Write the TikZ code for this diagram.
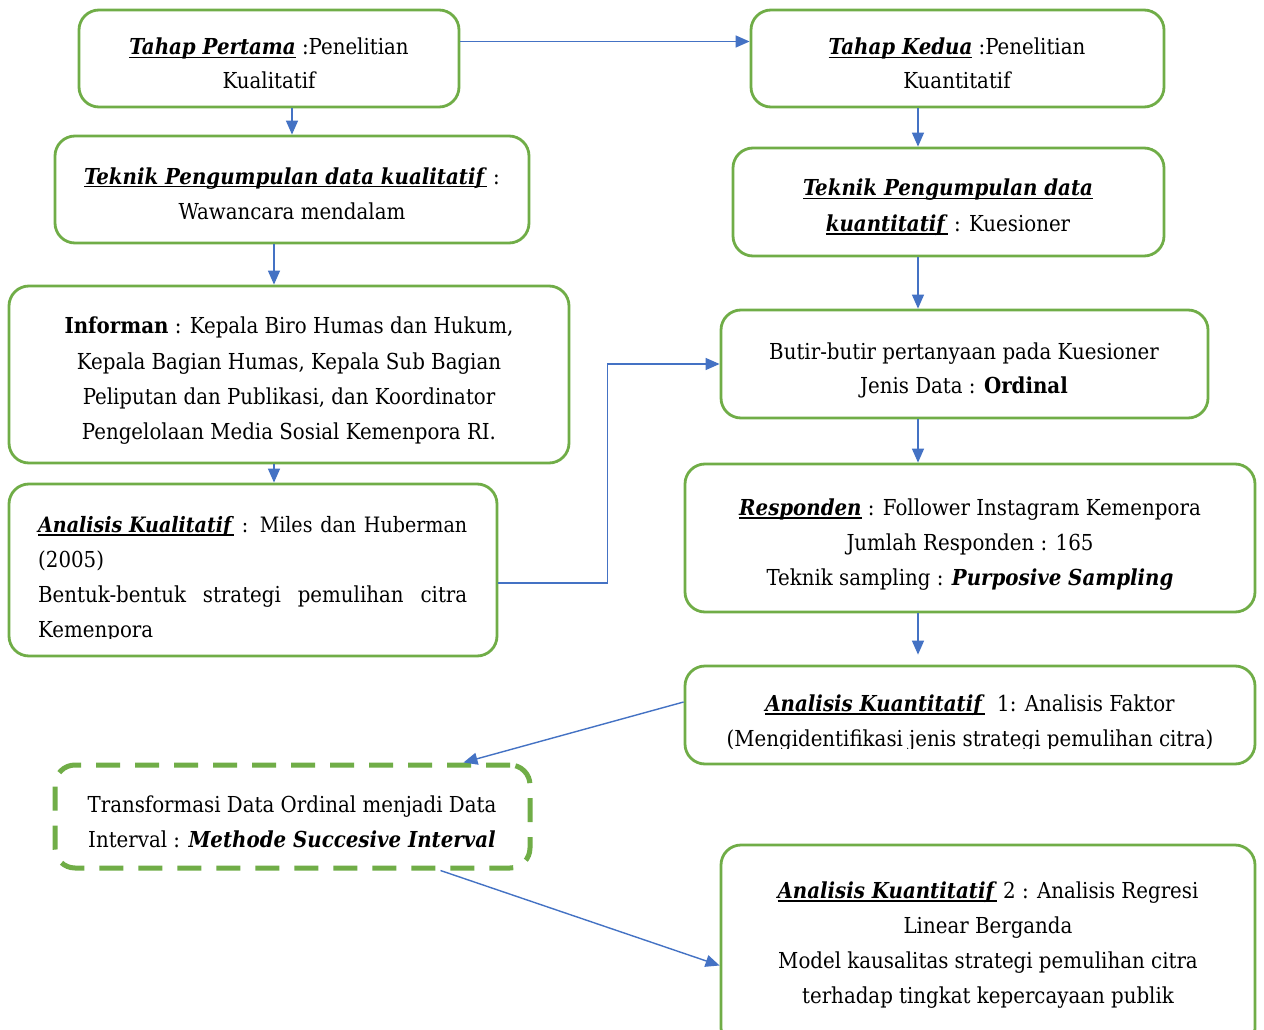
\documentclass[tikz,border=0pt]{standalone}
\usepackage{fontspec}
\setmainfont{DejaVu Serif Condensed}
\usetikzlibrary{arrows.meta,calc}
\definecolor{gr}{HTML}{70AD47}
\definecolor{bl}{HTML}{4472C4}
\newsavebox{\kwbox}
\newcommand{\kw}[1]{\sbox{\kwbox}{\textbf{\textit{#1}}}\rlap{\rule[-3.5pt]{\wd\kwbox}{1.7pt}}\usebox{\kwbox}}
\begin{document}
\begin{tikzpicture}[x=1pt,y=-1pt,
  box/.style={draw=gr, line width=2.8pt, rounded corners=20pt, inner sep=0pt},
  dbox/.style={draw=gr, line width=5pt, rounded corners=20pt, inner sep=0pt, dash pattern=on 24pt off 15pt},
  txt/.style={anchor=base, inner sep=0pt, font=\fontsize{22}{26}\selectfont},
  ltxt/.style={txt, anchor=base west},
  arr/.style={draw=bl, line width=1.4pt, -{Triangle[length=14pt,width=12pt]}}]
\useasboundingbox[fill=white] (0,0) rectangle (1264,1030);

% boxes
\node[box, minimum width=380pt, minimum height=97pt] (b1) at (269,58.5) {};
\node[box, minimum width=474pt, minimum height=107pt] (b2) at (292,189.5) {};
\node[box, minimum width=560pt, minimum height=177pt] (b3) at (289,374.5) {};
\node[box, minimum width=488pt, minimum height=172pt] (b4) at (253,570) {};
\node[box, minimum width=413pt, minimum height=97pt] (b5) at (957.5,58.5) {};
\node[box, minimum width=431pt, minimum height=108pt] (b6) at (948.5,202) {};
\node[box, minimum width=487pt, minimum height=108pt] (b7) at (964.5,364) {};
\node[box, minimum width=570pt, minimum height=148pt] (b8) at (970,538) {};
\node[box, minimum width=570pt, minimum height=98pt] (b9) at (970,715) {};
\node[dbox, minimum width=475pt, minimum height=103pt] (b10) at (292.5,816.5) {};
\node[box, minimum width=534pt, minimum height=203pt] (b11) at (988,946.5) {};

% texts
\node[txt] (t1a) at (269,55) {\kw{Tahap Pertama} :Penelitian};
\node[txt] (t1b) at (269,89) {Kualitatif};
\node[txt] (t2a) at (292,184) {\kw{Teknik Pengumpulan data kualitatif} :};
\node[txt] (t2b) at (292,219) {Wawancara mendalam};
\node[txt] (t3a) at (289,333) {\textbf{Informan} : Kepala Biro Humas dan Hukum,};
\node[txt] (t3b) at (289,369) {Kepala Bagian Humas, Kepala Sub Bagian};
\node[txt] (t3c) at (289,404) {Peliputan dan Publikasi, dan Koordinator};
\node[txt] (t3d) at (289,439) {Pengelolaan Media Sosial Kemenpora RI.};
\begin{scope}
\clip (20,490) rectangle (490,638);
\node[ltxt] (t4a) at (38,532) {\fontsize{21.2}{26}\selectfont\makebox[429pt][s]{\kw{Analisis Kualitatif} : Miles dan Huberman}};
\node[ltxt] (t4b) at (38,567) {(2005)};
\node[ltxt] (t4c) at (38,602) {\makebox[429pt][s]{Bentuk-bentuk strategi pemulihan citra}};
\node[ltxt] (t4d) at (38,637) {Kemenpora};
\end{scope}
\node[txt] (t5a) at (957,55) {\kw{Tahap Kedua} :Penelitian};
\node[txt] (t5b) at (957,89) {Kuantitatif};
\node[txt] (t6a) at (948,196) {\kw{Teknik Pengumpulan data}};
\node[txt] (t6b) at (948,231) {\kw{kuantitatif} : Kuesioner};
\node[txt] (t7a) at (964,359) {Butir-butir pertanyaan pada Kuesioner};
\node[txt] (t7b) at (964,393) {Jenis Data : \textbf{Ordinal}};
\node[txt] (t8a) at (970,515) {\kw{Responden} : Follower Instagram Kemenpora};
\node[txt] (t8b) at (970,550) {Jumlah Responden : 165};
\node[txt] (t8c) at (970,585) {Teknik sampling : \textbf{\textit{Purposive Sampling}}};
\begin{scope}
\clip (690,670) rectangle (1250,748);
\node[txt] (t9a) at (970,711) {\kw{Analisis Kuantitatif}\ \ 1: Analisis Faktor};
\node[txt] (t9b) at (970,746) {(Mengidentifikasi jenis strategi pemulihan citra)};
\end{scope}
\node[txt] (t10a) at (292,812) {Transformasi Data Ordinal menjadi Data};
\node[txt] (t10b) at (292,847) {Interval : \textbf{\textit{Methode Succesive Interval}}};
\node[txt] (t11a) at (988,898) {\kw{Analisis Kuantitatif} 2 : Analisis Regresi};
\node[txt] (t11b) at (988,933) {Linear Berganda};
\node[txt] (t11c) at (988,968) {Model kausalitas strategi pemulihan citra};
\node[txt] (t11d) at (988,1003) {terhadap tingkat kepercayaan publik};

% connectors
\coordinate (cx) at (918,0);
\draw[arr] (b1.south -| b2.north) -- (b2.north);
\draw[arr] ($(b1.east)+(0,-17)$) -- ($(b5.west)+(0,-17)$);
\draw[arr] ($(b2.south)+(-18,0)$) -- ($(b3.north)+(-15,0)$);
\draw[arr] ($(b3.south)+(-15,0)$) -- ($(b4.north)+(21,0)$);
\draw[arr] ($(b4.east)+(0,13)$) -| ($(b7.west)+(-112,0)$) -- (b7.west);
\draw[arr] (b5.south -| cx) -- (b6.north -| cx);
\draw[arr] (b6.south -| cx) -- (b7.north -| cx);
\draw[arr] (b7.south -| cx) -- (b8.north -| cx);
\draw[arr] (b8.south -| cx) -- ($(b9.north -| cx)+(0,-10)$);
\draw[arr] ($(b9.west)+(0,-13)$) -- ($(b10.north)+(171,0)$);
\draw[arr] ($(b10.south)+(148,0)$) -- ($(b11.west)+(0,19)$);
\end{tikzpicture}
\end{document}
